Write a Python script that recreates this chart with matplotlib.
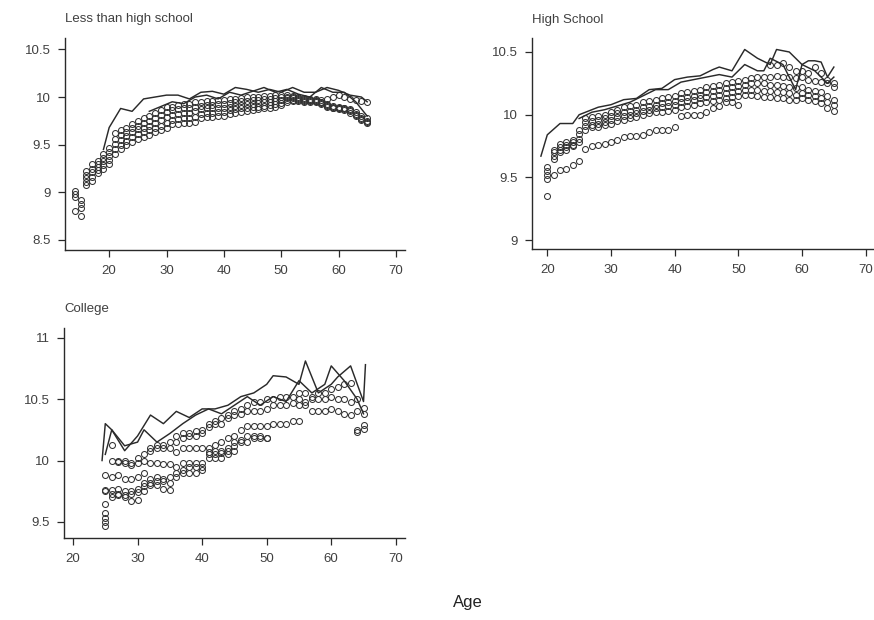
import numpy as np
import matplotlib
matplotlib.use("Agg")
import matplotlib.pyplot as plt

plt.rcParams['font.family'] = ['Liberation Sans', 'DejaVu Sans']

# ---------------- Less than high school ----------------
lths_ages = list(range(16, 66))
lths_row1 = [9.22, 9.30, 9.33, 9.40, 9.46, 9.62, 9.65, 9.68, 9.72, 9.75, 9.78, 9.80, 9.83, 9.86, 9.90, 9.90, 9.92, 9.93, 9.93, 9.95,
             9.95, 9.96, 9.96, 9.97, 9.97, 9.98, 9.98, 9.99, 10.00, 10.00, 10.00, 10.01, 10.01, 10.02, 10.02, 10.02, 10.01, 10.00, 9.99, 9.98,
             9.98, 9.97, 9.98, 10.00, 10.02, 10.00, 9.98, 9.97, 9.96, 9.95]
lths_row2 = [9.18, 9.25, 9.30, 9.36, 9.42, 9.56, 9.60, 9.63, 9.67, 9.70, 9.73, 9.75, 9.78, 9.81, 9.84, 9.86, 9.87, 9.88, 9.88, 9.90,
             9.91, 9.92, 9.92, 9.93, 9.93, 9.94, 9.95, 9.96, 9.96, 9.97, 9.97, 9.98, 9.98, 9.99, 10.00, 10.00, 10.00, 9.99, 9.98, 9.97,
             9.96, 9.95, 9.93, 9.91, 9.90, 9.89, 9.87, 9.84, 9.80, 9.78]
lths_row3 = [9.15, 9.21, 9.27, 9.33, 9.38, 9.51, 9.55, 9.59, 9.63, 9.66, 9.68, 9.70, 9.73, 9.76, 9.79, 9.81, 9.82, 9.83, 9.83, 9.85,
             9.87, 9.88, 9.88, 9.89, 9.89, 9.90, 9.91, 9.92, 9.93, 9.93, 9.94, 9.95, 9.95, 9.96, 9.97, 9.99, 9.99, 9.98, 9.97, 9.97,
             9.97, 9.95, 9.91, 9.89, 9.88, 9.87, 9.86, 9.81, 9.77, 9.74]
lths_row4 = [9.11, 9.16, 9.23, 9.29, 9.34, 9.45, 9.50, 9.54, 9.58, 9.61, 9.63, 9.65, 9.68, 9.70, 9.73, 9.76, 9.77, 9.78, 9.78, 9.79,
             9.82, 9.83, 9.83, 9.84, 9.84, 9.86, 9.87, 9.88, 9.89, 9.90, 9.90, 9.91, 9.92, 9.93, 9.94, 9.97, 9.97, 9.97, 9.96, 9.96,
             9.96, 9.94, 9.92, 9.90, 9.89, 9.88, 9.85, 9.82, 9.78, 9.75]
lths_row5 = [9.08, 9.12, 9.20, 9.25, 9.30, 9.40, 9.45, 9.50, 9.53, 9.56, 9.58, 9.60, 9.63, 9.65, 9.67, 9.72, 9.72, 9.73, 9.73, 9.74,
             9.78, 9.79, 9.79, 9.80, 9.80, 9.82, 9.83, 9.84, 9.85, 9.86, 9.87, 9.88, 9.89, 9.90, 9.92, 9.95, 9.96, 9.96, 9.95, 9.95,
             9.95, 9.93, 9.90, 9.88, 9.87, 9.86, 9.83, 9.80, 9.76, 9.73]
lths_early_ages = [14, 14, 14, 14, 15, 15, 15, 15]
lths_early_vals = [9.01, 8.98, 8.95, 8.80, 8.92, 8.88, 8.84, 8.75]
lths_lineA_ages = [19, 20, 22, 24, 26, 28, 30, 32, 34, 36, 38, 40, 42, 44, 46, 48, 50, 52, 54, 56, 58, 60, 62, 64, 65]
lths_lineA_vals = [9.45, 9.68, 9.88, 9.85, 9.98, 10.00, 10.02, 10.02, 9.98, 10.05, 10.06, 10.03, 10.10, 10.08, 10.05, 10.08,
                   10.05, 10.10, 10.05, 10.05, 10.10, 10.07, 10.02, 10.00, 9.95]
lths_lineB_ages = [27, 29, 31, 33, 35, 37, 39, 41, 43, 45, 47, 49, 51, 53, 55, 57, 59, 61, 63, 65]
lths_lineB_vals = [9.85, 9.90, 9.95, 9.93, 10.00, 10.02, 9.98, 10.05, 10.02, 10.06, 10.10, 10.05, 10.08, 10.03, 10.00, 10.10,
                   10.05, 10.05, 9.95, 9.80]

# ---------------- High School ----------------
hs_ages = list(range(21, 66))
hs_row1 = [9.72, 9.77, 9.78, 9.80, 9.88, 9.97, 9.98, 9.99, 10.00, 10.02, 10.04, 10.06, 10.07, 10.08, 10.10, 10.11, 10.12, 10.13, 10.14, 10.15,
           10.17, 10.18, 10.19, 10.20, 10.22, 10.23, 10.24, 10.25, 10.26, 10.27, 10.28, 10.29, 10.30, 10.30, 10.30, 10.31, 10.30, 10.30, 10.29, 10.30,
           10.28, 10.27, 10.26, 10.25, 10.25]
hs_row2 = [9.70, 9.74, 9.76, 9.78, 9.85, 9.94, 9.95, 9.96, 9.97, 9.99, 10.01, 10.02, 10.03, 10.04, 10.06, 10.07, 10.08, 10.09, 10.10, 10.11,
           10.13, 10.14, 10.15, 10.16, 10.18, 10.19, 10.20, 10.21, 10.22, 10.23, 10.24, 10.25, 10.25, 10.25, 10.24, 10.24, 10.23, 10.22, 10.21, 10.22,
           10.20, 10.19, 10.18, 10.15, 10.12]
hs_row3 = [9.67, 9.72, 9.74, 9.76, 9.81, 9.91, 9.92, 9.93, 9.94, 9.96, 9.98, 9.99, 10.00, 10.01, 10.03, 10.04, 10.05, 10.06, 10.07, 10.08,
           10.10, 10.11, 10.12, 10.13, 10.14, 10.15, 10.16, 10.17, 10.18, 10.19, 10.20, 10.20, 10.20, 10.19, 10.19, 10.18, 10.18, 10.17, 10.16, 10.17,
           10.16, 10.15, 10.13, 10.10, 10.08]
hs_row4 = [9.65, 9.70, 9.72, 9.75, 9.78, 9.88, 9.90, 9.90, 9.92, 9.93, 9.95, 9.96, 9.97, 9.98, 10.00, 10.01, 10.02, 10.02, 10.03, 10.04,
           10.06, 10.07, 10.08, 10.09, 10.10, 10.11, 10.12, 10.13, 10.14, 10.15, 10.16, 10.16, 10.15, 10.14, 10.14, 10.13, 10.13, 10.12, 10.12, 10.13,
           10.12, 10.11, 10.09, 10.05, 10.03]
hs_low_ages = list(range(21, 51))
hs_low_vals = [9.52, 9.56, 9.57, 9.60, 9.63, 9.73, 9.75, 9.76, 9.77, 9.78, 9.80, 9.82, 9.83, 9.83, 9.84, 9.86, 9.88, 9.88, 9.88, 9.90,
               9.99, 10.00, 10.00, 10.00, 10.02, 10.05, 10.07, 10.10, 10.10, 10.08]
hs_high_ages = list(range(55, 66))
hs_high_vals = [10.40, 10.40, 10.41, 10.38, 10.35, 10.35, 10.33, 10.38, 10.33, 10.28, 10.22]
hs_early_ages = [20, 20, 20, 20, 20]
hs_early_vals = [9.58, 9.55, 9.52, 9.49, 9.35]
hs_lineA_ages = [19, 20, 22, 24, 25, 26, 28, 30, 32, 34, 36, 38, 40, 42, 44, 46, 47, 49, 51, 53, 55, 56, 58, 60, 61, 62, 63, 64, 65]
hs_lineA_vals = [9.67, 9.84, 9.93, 9.93, 10.00, 10.02, 10.06, 10.08, 10.12, 10.13, 10.20, 10.21, 10.28, 10.30, 10.31, 10.36,
                 10.38, 10.35, 10.52, 10.45, 10.40, 10.52, 10.50, 10.40, 10.43, 10.43, 10.42, 10.30, 10.38]
hs_lineB_ages = [25, 27, 29, 31, 33, 35, 37, 39, 41, 43, 45, 47, 49, 51, 53, 54, 55, 57, 59, 60, 62, 64, 65]
hs_lineB_vals = [9.97, 10.02, 10.04, 10.07, 10.10, 10.15, 10.20, 10.20, 10.26, 10.28, 10.30, 10.32, 10.30, 10.40, 10.35, 10.35,
                 10.45, 10.40, 10.20, 10.40, 10.35, 10.25, 10.30]

# ---------------- College ----------------
col_ages = list(range(26, 66))
col_row1 = [10.13, 10.00, 10.00, 9.98, 10.02, 10.05, 10.10, 10.13, 10.13, 10.15, 10.20, 10.22, 10.22, 10.24, 10.25, 10.30, 10.32, 10.35, 10.37, 10.40,
            10.42, 10.45, 10.48, 10.48, 10.50, 10.50, 10.52, 10.52, 10.52, 10.55, 10.55, 10.52, 10.55, 10.55, 10.58, 10.60, 10.62, 10.63, 10.50, 10.43]
col_row2 = [10.00, 9.99, 9.98, 9.96, 9.98, 10.00, 10.08, 10.10, 10.10, 10.10, 10.15, 10.18, 10.20, 10.20, 10.22, 10.27, 10.30, 10.30, 10.35, 10.37,
            10.38, 10.40, 10.40, 10.40, 10.42, 10.45, 10.45, 10.45, 10.47, 10.50, 10.48, 10.50, 10.50, 10.50, 10.52, 10.50, 10.50, 10.48, 10.40, 10.38]
col_r3_ages = list(range(25, 56))
col_row3 = [9.88, 9.87, 9.88, 9.85, 9.85, 9.87, 9.90, 9.98, 9.98, 9.97, 9.97, 10.07, 10.10, 10.10, 10.10, 10.10, 10.10, 10.13, 10.15, 10.18,
            10.20, 10.25, 10.28, 10.28, 10.28, 10.28, 10.30, 10.30, 10.30, 10.32, 10.32]
col_r4_ages = list(range(25, 51))
col_row4 = [9.76, 9.76, 9.77, 9.75, 9.75, 9.77, 9.82, 9.85, 9.87, 9.85, 9.87, 9.95, 9.98, 9.98, 9.98, 9.98, 10.07, 10.08, 10.08, 10.10,
            10.15, 10.17, 10.20, 10.20, 10.20, 10.18]
col_row6 = [9.75, 9.73, 9.73, 9.72, 9.73, 9.74, 9.79, 9.82, 9.83, 9.83, 9.82, 9.90, 9.92, 9.95, 9.95, 9.95, 10.05, 10.05, 10.06, 10.08,
            10.12, 10.15, 10.15, 10.18, 10.18, 10.18]
col_r5_ages = list(range(25, 46))
col_row5 = [9.65, 9.70, 9.72, 9.70, 9.67, 9.68, 9.75, 9.80, 9.80, 9.77, 9.76, 9.87, 9.90, 9.90, 9.90, 9.92, 10.02, 10.02, 10.02, 10.05, 10.08]
col_r7_ages = list(range(55, 66))
col_row7 = [10.45, 10.45, 10.40, 10.40, 10.40, 10.42, 10.40, 10.38, 10.37, 10.25, 10.26]
col_early_ages = [25, 25, 25, 25, 64, 65]
col_early_vals = [9.57, 9.53, 9.50, 9.47, 10.23, 10.29]
col_lineA_ages = [24.5, 25, 26, 28, 30, 32, 34, 36, 38, 40, 42, 44, 46, 48, 50, 51, 53, 55, 56, 58, 60, 61, 63, 65, 65.3]
col_lineA_vals = [10.00, 10.30, 10.25, 10.08, 10.20, 10.37, 10.30, 10.40, 10.35, 10.42, 10.42, 10.45, 10.52, 10.55, 10.62,
                  10.69, 10.68, 10.62, 10.81, 10.55, 10.62, 10.68, 10.77, 10.48, 10.78]
col_lineB_ages = [25, 26, 28, 30, 31, 33, 35, 37, 39, 41, 43, 45, 47, 49, 51, 53, 55, 57, 59, 60, 62, 64, 65]
col_lineB_vals = [10.05, 10.25, 10.12, 10.15, 10.25, 10.15, 10.22, 10.30, 10.37, 10.42, 10.38, 10.45, 10.52, 10.45, 10.52,
                  10.48, 10.65, 10.55, 10.62, 10.77, 10.65, 10.50, 10.38]

titles = ["Less than high school", "High School", "College"]

INK = "#2a2a2a"
TXT = "#404040"

fig = plt.figure(figsize=(8.74, 6.2), dpi=100)
ax1 = fig.add_axes([0.0744, 0.5968, 0.389, 0.342])
ax2 = fig.add_axes([0.6087, 0.5984, 0.392, 0.340])
ax3 = fig.add_axes([0.0732, 0.1323, 0.390, 0.339])

mk = dict(linestyle='none', marker='o', markersize=4.3, markerfacecolor='none',
          markeredgecolor="#333333", markeredgewidth=0.75)
ln = dict(color=INK, linewidth=1.05)

def circles(ax, x, *rows):
    for r in rows:
        ax.plot(x, r, **mk)

circles(ax1, lths_ages, lths_row1, lths_row2, lths_row3, lths_row4, lths_row5)
ax1.plot(lths_early_ages, lths_early_vals, **mk)
ax1.plot(lths_lineA_ages, lths_lineA_vals, **ln)
ax1.plot(lths_lineB_ages, lths_lineB_vals, **ln)

circles(ax2, hs_ages, hs_row1, hs_row2, hs_row3, hs_row4)
ax2.plot(hs_low_ages, hs_low_vals, **mk)
ax2.plot(hs_high_ages, hs_high_vals, **mk)
ax2.plot(hs_early_ages, hs_early_vals, **mk)
ax2.plot(hs_lineA_ages, hs_lineA_vals, **ln)
ax2.plot(hs_lineB_ages, hs_lineB_vals, **ln)

circles(ax3, col_ages, col_row1, col_row2)
ax3.plot(col_r3_ages, col_row3, **mk)
circles(ax3, col_r4_ages, col_row4, col_row6)
ax3.plot(col_r5_ages, col_row5, **mk)
ax3.plot(col_r7_ages, col_row7, **mk)
ax3.plot(col_early_ages, col_early_vals, **mk)
ax3.plot(col_lineA_ages, col_lineA_vals, **ln)
ax3.plot(col_lineB_ages, col_lineB_vals, **ln)

ax1.set_xlim(12.3, 71.6); ax1.set_ylim(8.395, 10.62)
ax1.set_yticks([8.5, 9, 9.5, 10, 10.5]); ax1.set_yticklabels(["8.5", "9", "9.5", "10", "10.5"])
ax2.set_xlim(17.6, 71.4); ax2.set_ylim(8.93, 10.61)
ax2.set_yticks([9, 9.5, 10, 10.5]); ax2.set_yticklabels(["9", "9.5", "10", "10.5"])
ax3.set_xlim(18.6, 71.4); ax3.set_ylim(9.37, 11.08)
ax3.set_yticks([9.5, 10, 10.5, 11]); ax3.set_yticklabels(["9.5", "10", "10.5", "11"])

for ax, t in zip([ax1, ax2, ax3], titles):
    ax.set_xticks([20, 30, 40, 50, 60, 70])
    for s in ['top', 'right']:
        ax.spines[s].set_visible(False)
    for s in ['left', 'bottom']:
        ax.spines[s].set_color(INK)
        ax.spines[s].set_linewidth(1.0)
    ax.tick_params(axis='both', direction='out', length=5, width=0.9, color=INK,
                   labelsize=9.5, labelcolor=TXT, pad=6)
    ax.tick_params(axis='y', pad=5)
    ax.set_facecolor('none')
    ax.text(0.0, 1.06, t, transform=ax.transAxes, ha='left', va='bottom',
            fontsize=9.5, color=TXT)

fig.text(0.535, 0.029, "Age", ha='center', va='center', fontsize=12, color="#222222")

fig.savefig("out.png", dpi=100)
